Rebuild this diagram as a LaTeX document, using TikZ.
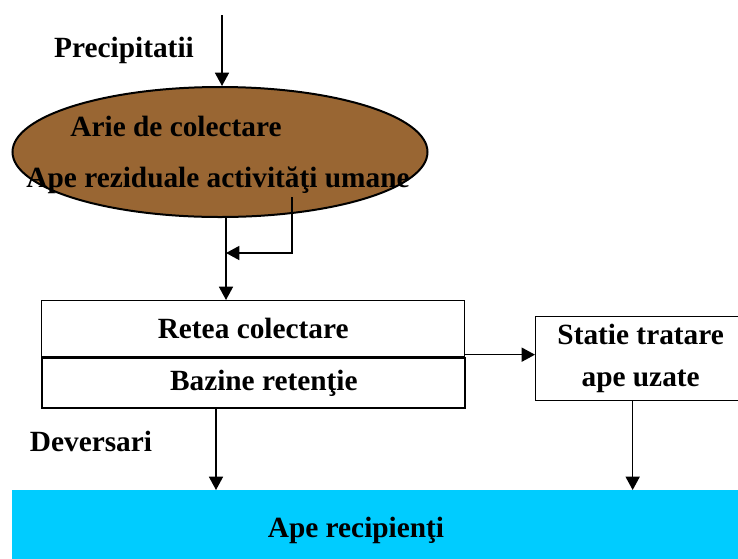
\documentclass[tikz,border=0pt]{standalone}
\usepackage{fontspec}
\setmainfont{Liberation Serif}
\usetikzlibrary{shapes.geometric,arrows.meta,positioning}

\definecolor{soil}{HTML}{996633}
\definecolor{water}{HTML}{00CCFF}

\tikzset{
  lbl/.style={font=\bfseries\fontsize{22}{30}\selectfont, inner sep=0pt},
  flow/.style={line width=1.2pt, -{Triangle[length=10pt,width=10.5pt]}},
  boxpart/.style={draw, line width=1pt, minimum width=317.25pt, inner sep=0pt, anchor=north west,
    font=\bfseries\fontsize{22}{31.5}\selectfont}
}

\begin{document}
\begin{tikzpicture}[x=0.75pt,y=-0.75pt]
  \useasboundingbox (0,0) rectangle (738,558);

  % Collection area (brown)
  \node[ellipse, draw, fill=soil, line width=1.5pt, minimum width=311.25pt, minimum height=97.5pt] (area) at (220,152) {};
  \node[lbl] (arie) at (176,126) {Arie de colectare};
  \node[lbl] (uman) at (218,180) {Ape reziduale activităţi umane};

  % Rain input
  \coordinate (rain) at (222,15);
  \node[lbl] (prec) at (124,50) {Precipitatii};
  \draw[flow] (rain) -- (rain |- area.north);

  % Network + retention basins
  \node[boxpart, minimum height=42pt] (retea) at (41,300) {Retea colectare};
  \node[boxpart, line width=1.5pt, minimum height=37.5pt, below=0pt of retea] (bazine) {\hspace{16pt}Bazine retenţie};

  % Treatment plant
  \node[boxpart, minimum width=157.5pt, minimum height=63pt, align=center] (statie) at (535,316) {Statie tratare\\ape uzate};

  % Receiving water (cyan)
  \node[fill=water, minimum width=547.5pt, minimum height=52.5pt, anchor=north west] (lake) at (12,490) {};
  \node[lbl] (recip) at (356,530) {Ape recipienţi};
  \node[lbl] (dev) at (91,441) {Deversari};

  % Connectors
  \coordinate (join) at (226,253);
  \coordinate (human) at (292,197);
  \coordinate (spill) at (216,490);
  \draw[flow] (join |- area.south) -- (join |- retea.north);
  \draw[flow] (human) |- (join);
  \draw[flow] ([yshift=2pt]retea.south east) -- ([yshift=2pt]retea.south east -| statie.west);
  \draw[flow] (spill |- bazine.south) -- (spill);
  \draw[flow] ([xshift=-6pt]statie.south) -- ([xshift=-6pt]statie.south |- lake.north);
\end{tikzpicture}
\end{document}
